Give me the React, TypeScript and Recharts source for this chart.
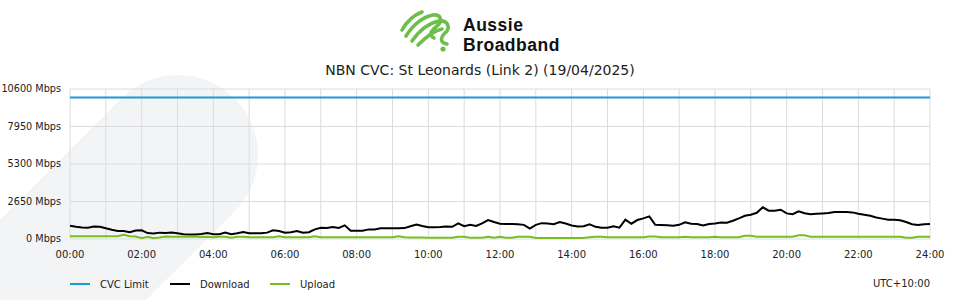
import React from 'react';
import { LineChart, Line, XAxis, YAxis, CartesianGrid } from 'recharts';

// Values every 10 minutes from 00:00 to 24:00 (Mbps)
const DOWNLOAD = [
  940, 860, 820, 800, 880, 870,
  755, 650, 560, 560, 480, 600,
  620, 420, 390, 450, 420, 460,
  400, 340, 310, 310, 360, 420,
  340, 340, 450, 330, 400, 495,
  400, 400, 400, 450, 620, 560,
  440, 480, 560, 450, 480, 680,
  800, 780, 850, 780, 965, 590,
  590, 590, 680, 680, 760, 760,
  755, 755, 770, 900, 1030, 920,
  827, 827, 840, 880, 860, 1100,
  900, 1000, 920, 1100, 1340, 1200,
  1080, 1060, 1060, 1040, 1000, 730,
  1000, 1120, 1100, 1050, 1200, 1090,
  960, 880, 900, 1035, 860, 800,
  790, 900, 800, 1366, 1080, 1340,
  1460, 1600, 1010, 995, 980, 945,
  1000, 1180, 1080, 1060, 960, 1060,
  1100, 1160, 1150, 1290, 1460, 1640,
  1720, 1850, 2240, 2000, 2000, 2070,
  1810, 1750, 1960, 1820, 1750, 1780,
  1810, 1840, 1900, 1910, 1900, 1880,
  1780, 1720, 1640, 1520, 1440, 1360,
  1360, 1330, 1200, 1040, 990, 1050,
  1060,
];

const UPLOAD = [
  190, 190, 190, 190, 190, 190,
  190, 190, 190, 300, 200, 170,
  60, 160, 60, 100, 170, 165,
  165, 165, 165, 160, 150, 165,
  120, 160, 165, 90, 160, 165,
  120, 120, 120, 120, 120, 190,
  120, 120, 120, 120, 120, 190,
  120, 120, 120, 120, 120, 120,
  120, 120, 120, 120, 120, 120,
  120, 190, 120, 100, 100, 100,
  90, 90, 90, 90, 90, 165,
  165, 90, 90, 90, 165, 90,
  165, 90, 90, 165, 165, 165,
  70, 70, 70, 70, 70, 70,
  70, 70, 70, 120, 165, 165,
  120, 120, 120, 120, 120, 120,
  120, 170, 170, 120, 120, 120,
  120, 165, 120, 120, 120, 120,
  165, 120, 120, 120, 120, 230,
  230, 160, 160, 160, 160, 160,
  160, 160, 260, 260, 160, 160,
  160, 160, 160, 160, 160, 160,
  160, 160, 160, 160, 160, 160,
  160, 160, 90, 90, 160, 160,
  160,
];

const CVC_LIMIT = 10000;
const Y_TICKS = [0, 2650, 5300, 7950, 10600];
const X_TICKS = [0, 1, 2, 3, 4, 5, 6, 7, 8, 9, 10, 11, 12, 13, 14, 15, 16, 17, 18, 19, 20, 21, 22, 23, 24];
const TITLE = 'NBN CVC: St Leonards (Link 2) (19/04/2025)';
const TIMEZONE = 'UTC+10:00';
const BRAND_LINES = ['Aussie', 'Broadband'];
const SERIES = [
  { key: 'cvc', name: 'CVC Limit', color: '#1b9ad6' },
  { key: 'download', name: 'Download', color: '#000000' },
  { key: 'upload', name: 'Upload', color: '#78be21' },
];

const data = DOWNLOAD.map((d, i) => ({
  t: i / 6,
  download: d,
  upload: UPLOAD[i],
  cvc: CVC_LIMIT,
}));

const FONT = '"DejaVu Sans", Verdana, sans-serif';

const fmtHour = (h: number) => (h % 2 === 0 ? `${String(h).padStart(2, '0')}:00` : '');

const YTick = (props: any) => {
  const { x, y, payload } = props;
  return (
    <text x={x} y={y} dy="0.355em" textAnchor="end" fontSize={9.7} fill="#222" fontFamily={FONT}>
      {`${payload.value} Mbps`}
    </text>
  );
};

function Logo() {
  return (
    <div style={{ position: 'absolute', left: 398, top: 8, width: 170, height: 46 }}>
      <svg width={60} height={46} style={{ position: 'absolute', left: 0, top: 0 }}>
        <g fill="none" stroke="#6cc04a" strokeWidth={3.6} strokeLinecap="round">
          <path d="M4,22 C9,13 16,7 24,4" />
          <path d="M8,28 C15,17 25,9 35,7 C43,6 45,13 39,18 C33,23 30,27 36,30" />
          <path d="M14,33 C21,23 31,15 41,13 C50,12 53,20 47,25 C42,30 42,35 49,36" />
          <path d="M20,37 C27,30 35,23 44,21" />
        </g>
        <circle cx={45} cy={41} r={2.6} fill="#6cc04a" />
      </svg>
      {BRAND_LINES.map((line, i) => (
        <div
          key={line}
          style={{
            position: 'absolute',
            left: 65,
            top: 6.5 + i * 20,
            height: 20,
            fontFamily: '"Liberation Sans", Arial, sans-serif',
            fontWeight: 700,
            fontSize: 17.5,
            lineHeight: '20px',
            color: '#111',
            letterSpacing: 0.5,
            whiteSpace: 'nowrap',
          }}
        >
          {line}
        </div>
      ))}
    </div>
  );
}

export default function App() {
  return (
    <div
      style={{
        position: 'fixed',
        left: 0,
        top: 0,
        width: 960,
        height: 300,
        background: '#ffffff',
        overflow: 'hidden',
        fontFamily: FONT,
      }}
    >
      <svg width={960} height={300} style={{ position: 'absolute', left: 0, top: 0 }}>
        <path d="M -100 320 L 121.4 98.4 A 80 80 0 0 1 234.6 211.6 L 100 346 Z" fill="#f3f4f6" />
      </svg>
      <Logo />
      <div
        style={{
          position: 'absolute',
          left: 0,
          top: 61,
          width: 960,
          textAlign: 'center',
          fontSize: 14,
          color: '#222',
          lineHeight: '18px',
        }}
      >
        {TITLE}
      </div>
      <div style={{ position: 'absolute', left: 0, top: 0 }}>
        <LineChart width={960} height={300} data={data} margin={{ top: 89, right: 30, left: 0, bottom: 31 }}>
          <CartesianGrid stroke="#dcdcdc" strokeWidth={1} />
          <XAxis
            dataKey="t"
            type="number"
            domain={[0, 24]}
            ticks={X_TICKS}
            tickFormatter={fmtHour}
            interval={0}
            axisLine={false}
            tickLine={false}
            tickMargin={6}
            tick={{ fontSize: 10, fill: '#222', fontFamily: FONT }}
            height={30}
          />
          <YAxis
            type="number"
            domain={[0, 10600]}
            ticks={Y_TICKS}
            axisLine={false}
            tickLine={false}
            tickMargin={3}
            width={70}
            interval={0}
            tick={<YTick />}
          />
          {SERIES.map((s) => (
            <Line
              key={s.key}
              dataKey={s.key}
              name={s.name}
              stroke={s.color}
              strokeWidth={2}
              dot={false}
              type="linear"
              isAnimationActive={false}
            />
          ))}
        </LineChart>
      </div>
      {SERIES.map((s, i) => (
        <div
          key={s.key}
          style={{ position: 'absolute', left: 70 + i * 100, top: 277, height: 14, display: 'flex', alignItems: 'center' }}
        >
          <div style={{ width: 20, height: 2, background: s.color, marginRight: 10 }} />
          <span style={{ fontSize: 10, color: '#222' }}>{s.name}</span>
        </div>
      ))}
      <div style={{ position: 'absolute', right: 30, top: 277, height: 14, lineHeight: '14px', fontSize: 10, color: '#222' }}>
        {TIMEZONE}
      </div>
    </div>
  );
}
